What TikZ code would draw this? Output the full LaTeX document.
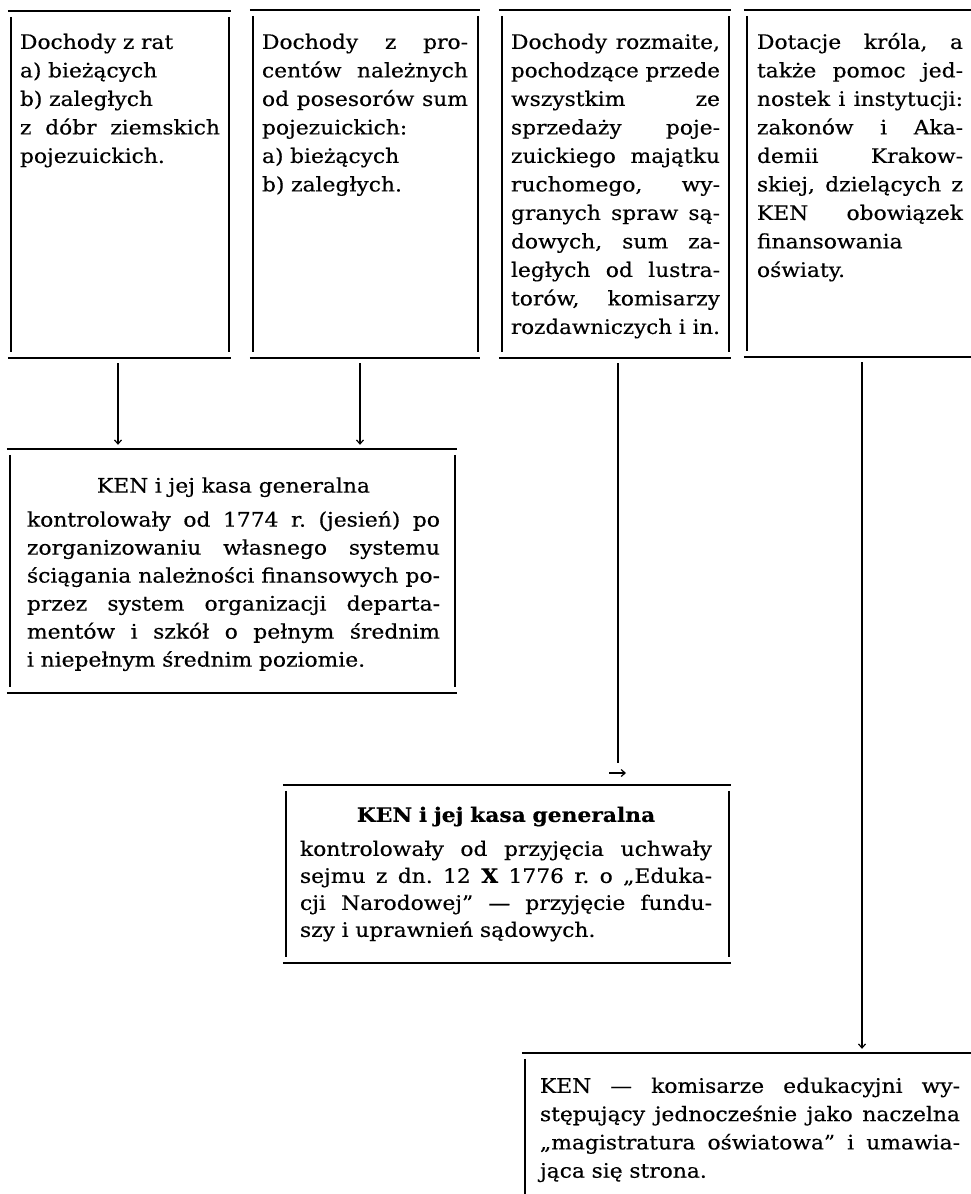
\documentclass[tikz,border=0pt]{standalone}
\usepackage{graphicx}
\usepackage{fontspec}
\setmainfont{DejaVu Serif}[FakeStretch=1.09,FakeBold=0.4]
\usetikzlibrary{arrows.meta,fit}
\setlength\parindent{0pt}
\frenchspacing
\newcommand\jl[1]{\setbox0\hbox{\spaceskip=0pt\xspaceskip=0pt #1}\ifdim\wd0>\hsize\resizebox{\hsize}{\height}{\box0}\else\makebox[\hsize][s]{\spaceskip=0pt\xspaceskip=0pt #1}\fi}
\newcommand\hd[1]{\makebox[\hsize][c]{#1}}
\begin{document}
\begin{tikzpicture}[x=1pt,y=-1pt,
  rule/.style={draw=black,line width=2pt,-},
  frame/.style={draw=none,inner sep=0pt,
    append after command={
      ([xshift=-3pt]\tikzlastnode.north west) edge[rule] ([xshift=2pt]\tikzlastnode.north east)
      ([xshift=-3pt]\tikzlastnode.south west) edge[rule] ([xshift=2pt]\tikzlastnode.south east)
      ([yshift=-6pt]\tikzlastnode.north west) edge[rule] ([yshift=6pt]\tikzlastnode.south west)
      ([yshift=-6pt]\tikzlastnode.north east) edge[rule] ([yshift=6pt]\tikzlastnode.south east)
    }},
  txt/.style={inner sep=0pt,anchor=north west,align=left,font=\fontsize{20pt}{28.5pt}\selectfont},
  conn/.style={draw=black,line width=1.4pt,-{Straight Barb[length=4pt,width=7pt,line width=1.2pt]},shorten <=5pt,shorten >=4pt},
  stem/.style={draw=black,line width=1.4pt,shorten <=5pt},
  tip/.style={draw=black,line width=1.2pt,-{Straight Barb[length=4pt,width=7pt,line width=1.2pt]}}
]
\fill[white] (0,0) rectangle (970,1194);
\useasboundingbox (0,0) rectangle (970,1194);

% top boxes
\node[frame,fit={(11,11) (229,358)}] (b1) {};
\node[txt,text width=200pt] (t1) at ([xshift=9pt,yshift=-18pt]b1.north west)
 {\strut Dochody z rat\\ a) bieżących\\ b) zaległych\\ \jl{z dóbr ziemskich}\\ pojezuickich.};

\node[frame,fit={(253,10) (478,358)}] (b2) {};
\node[txt,text width=206pt] (t2) at ([xshift=9pt,yshift=-19pt]b2.north west)
 {\jl{\strut Dochody z pro-}\\ \jl{centów należnych}\\ \jl{od posesorów sum}\\ pojezuickich:\\ a) bieżących\\ b) zaległych.};

\node[frame,fit={(502,10) (729,358)}] (b3) {};
\node[txt,text width=209pt] (t3) at ([xshift=9pt,yshift=-19pt]b3.north west)
 {\jl{\strut Dochody rozmaite,}\\ \jl{pochodzące przede}\\ \jl{wszystkim ze}\\ \jl{sprzedaży poje-}\\ \jl{zuickiego majątku}\\ \jl{ruchomego, wy-}\\ \jl{granych spraw są-}\\ \jl{dowych, sum za-}\\ \jl{ległych od lustra-}\\ \jl{torów, komisarzy}\\ \jl{rozdawniczych i in.}};

\node[frame,fit={(747,10) (985,357)}] (b4) {};
\node[txt,text width=206pt] (t4) at ([xshift=10pt,yshift=-19pt]b4.north west)
 {\jl{\strut Dotacje króla, a}\\ \jl{także pomoc jed-}\\ \jl{nostek i instytucji:}\\ \jl{zakonów i Aka-}\\ \jl{demii Krakow-}\\ \jl{skiej, dzielących z}\\ \jl{KEN obowiązek}\\ finansowania\\ oświaty.};

% KEN 1
\node[frame,fit={(10,449) (455,693)}] (k1) {};
\node[txt,text width=413pt,font=\fontsize{20pt}{28pt}\selectfont] (u1) at ([xshift=17pt,yshift=-24pt]k1.north west)
 {\hd{\strut KEN i jej kasa generalna}\\[6pt]
  \jl{kontrolowały od 1774 r. (jesień) po}\\
  \jl{zorganizowaniu własnego systemu}\\
  \jl{ściągania należności finansowych po-}\\
  \jl{przez system organizacji departa-}\\
  \jl{mentów i szkół o pełnym średnim}\\
  i niepełnym średnim poziomie.};

% KEN 2
\node[frame,fit={(286,785) (729,963)}] (k2) {};
\node[txt,text width=412pt,font=\fontsize{20pt}{27pt}\selectfont] (u2) at ([xshift=14pt,yshift=-18pt]k2.north west)
 {\hd{\strut\bfseries KEN i jej kasa generalna}\\[7pt]
  \jl{kontrolowały od przyjęcia uchwały}\\
  \jl{sejmu z dn. 12 \textbf{X} 1776 r. o „Eduka-}\\
  \jl{cji Narodowej” — przyjęcie fundu-}\\
  szy i uprawnień sądowych.};

% KEN 3
\node[frame,fit={(525,1053) (985,1215)}] (k3) {};
\node[txt,text width=420pt,font=\fontsize{20pt}{28.3pt}\selectfont] (u3) at ([xshift=15pt,yshift=-20pt]k3.north west)
 {\jl{\strut KEN — komisarze edukacyjni wy-}\\
  \jl{stępujący jednocześnie jako naczelna}\\
  \jl{„magistratura oświatowa” i umawia-}\\
  jąca się strona.};

% connectors
\coordinate (a1) at ([xshift=-2pt]b1.south);
\coordinate (a2) at ([xshift=-5.5pt]b2.south);
\coordinate (a3) at ([xshift=2.5pt]b3.south);
\coordinate (a4) at ([xshift=-4pt]b4.south);
\draw[conn] (a1) -- (a1 |- k1.north);
\draw[conn] (a2) -- (a2 |- k1.north);
\coordinate (e3) at ([yshift=22pt]a3 |- k2.north);
\draw[stem] (a3) -- (e3);
\coordinate (h1) at (609,773);
\coordinate (h2) at (626,773);
\draw[tip] (h1) -- (h2);
\draw[conn] (a4) -- (a4 |- k3.north);
\end{tikzpicture}
\end{document}
